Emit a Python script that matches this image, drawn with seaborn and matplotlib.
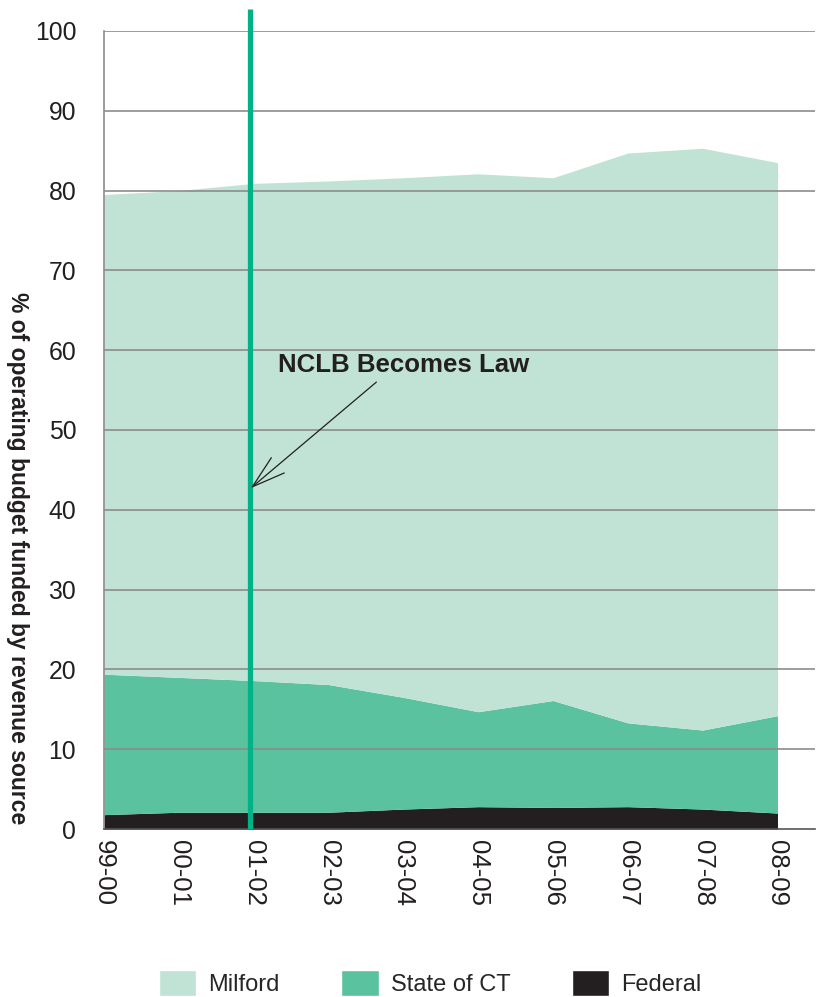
import matplotlib
matplotlib.use("Agg")
import matplotlib.pyplot as plt
from matplotlib.patches import Patch
import seaborn as sns
import numpy as np

years = ["99-00", "00-01", "01-02", "02-03", "03-04", "04-05", "05-06", "06-07", "07-08", "08-09"]
federal = [1.8, 2.1, 2.1, 2.1, 2.5, 2.8, 2.7, 2.8, 2.5, 2.0]
state_ct = [17.6, 16.9, 16.5, 16.0, 14.0, 11.9, 13.4, 10.5, 9.9, 12.2]
milford = [60.1, 61.0, 62.3, 63.1, 65.1, 67.4, 65.5, 71.4, 72.9, 69.3]
y_ticks = [0, 10, 20, 30, 40, 50, 60, 70, 80, 90, 100]

c_milford = "#c0e3d6"
c_state = "#5bc29f"
c_fed = "#231f20"
c_line = "#00b386"

sns.set_theme(style="white")
plt.rcParams["font.family"] = ["Liberation Sans", "DejaVu Sans"]

fig = plt.figure(figsize=(8.19, 9.97), dpi=100)
ax = fig.add_axes([0.127, 0.1685, 0.868, 0.8005])

x = np.arange(len(years))
ax.stackplot(x, federal, state_ct, milford, colors=[c_fed, c_state, c_milford],
             linewidth=0, zorder=2)

ax.set_xlim(0, 9.5)
ax.set_ylim(0, 100)
ax.set_yticks(y_ticks)
ax.set_yticklabels([str(v) for v in y_ticks], fontsize=17.8, color="#231f20")
ax.set_xticks(x)
ax.set_xticklabels(years, rotation=270, fontsize=18.5, color="#231f20")
ax.tick_params(axis="both", length=0)
ax.tick_params(axis="y", pad=20)
ax.tick_params(axis="x", pad=8)

for v in y_ticks[1:]:
    ax.axhline(v, color="#8c8c8c", linewidth=1.2, zorder=3)

for s in ["top", "right"]:
    ax.spines[s].set_visible(False)
ax.spines["left"].set_color("#8c8c8c")
ax.spines["left"].set_linewidth(1.2)
ax.spines["bottom"].set_color("#555555")
ax.spines["bottom"].set_linewidth(1.2)
ax.spines["left"].set_zorder(4)
ax.spines["bottom"].set_zorder(4)

ax.axvline(1.95, ymin=0, ymax=1.028, color=c_line, linewidth=3.8, clip_on=False,
           solid_capstyle="butt", zorder=5)

ax.annotate("", xy=(1.96, 42.7), xytext=(3.64, 56.0),
            arrowprops=dict(arrowstyle="->,head_length=2.0,head_width=0.6",
                            color="#231f20", linewidth=0.9, shrinkA=0, shrinkB=0),
            zorder=6)
ax.text(4.0, 58.2, "NCLB Becomes Law", fontsize=18.6, fontweight="bold",
        color="#231f20", ha="center", va="center", zorder=6)

fig.text(17 / 819, 1 - 558 / 997, "% of operating budget funded by revenue source",
         fontsize=16.5, fontweight="bold", rotation=270, color="#231f20",
         ha="center", va="center")

handles = [Patch(facecolor=c_milford, label="Milford"),
           Patch(facecolor=c_state, label="State of CT"),
           Patch(facecolor=c_fed, label="Federal")]
fig.legend(handles=handles, loc="center", bbox_to_anchor=(0.525, 0.014), ncol=3,
           frameon=False, fontsize=17, handlelength=1.6, handleheight=1.3,
           handletextpad=0.5, columnspacing=2.6)

fig.savefig("out.png", dpi=100)
